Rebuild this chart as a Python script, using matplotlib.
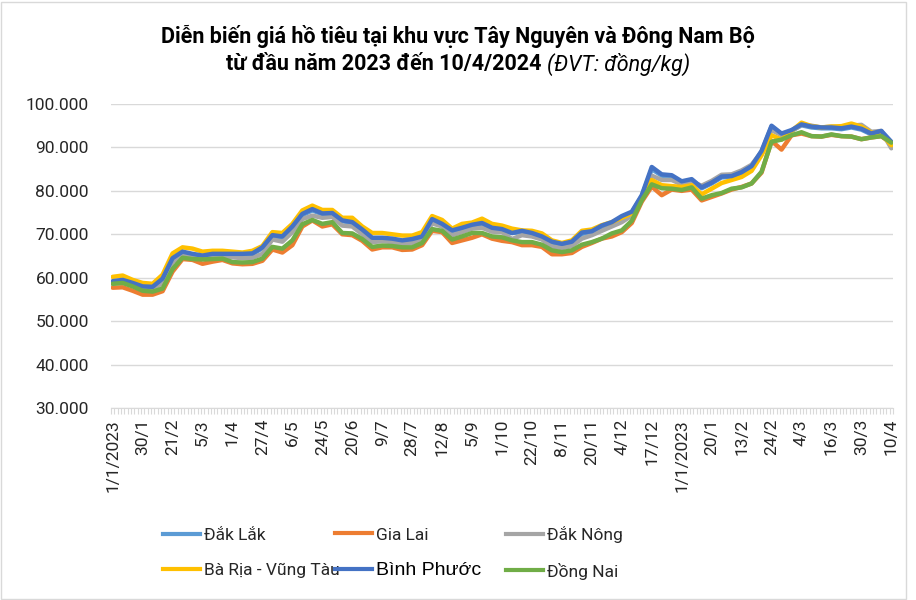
import numpy as np
import matplotlib.pyplot as plt
from matplotlib.ticker import FuncFormatter, FixedLocator
from matplotlib.lines import Line2D
from matplotlib.patches import Rectangle

plt.rcParams['font.family'] = ['Roboto', 'DejaVu Sans']

# gia (nghin dong/kg), moi diem cach nhau ~3 phien
dak_lak = [59.0, 59.3, 58.6, 57.8, 57.6, 59.5, 64.2, 65.8, 65.3, 64.9,
           65.3, 65.3, 65.3, 65.3, 65.4, 66.8, 69.5, 69.2, 71.5, 74.4,
           75.5, 74.6, 74.6, 73.0, 72.6, 70.8, 69.0, 69.0, 68.8, 68.4,
           68.6, 69.3, 73.2, 72.1, 70.6, 71.2, 71.9, 72.3, 71.2, 70.9,
           70.3, 70.5, 70.0, 69.2, 68.0, 67.5, 68.0, 70.1, 70.4, 71.7,
           72.5, 73.9, 75.0, 78.8, 85.0, 83.5, 83.3, 82.0, 82.4, 80.6,
           81.7, 83.1, 83.2, 84.1, 85.5, 89.0, 94.8, 93.0, 93.8, 95.1,
           94.6, 94.4, 94.4, 94.2, 94.6, 94.1, 93.0, 93.6, 91.0]
gia_lai = [57.7, 57.8, 57.0, 56.1, 56.1, 56.9, 61.4, 64.3, 64.1, 63.2,
           63.7, 64.1, 63.3, 63.1, 63.2, 63.9, 66.5, 65.8, 67.5, 71.8,
           73.2, 71.8, 72.3, 70.0, 69.8, 68.5, 66.5, 67.0, 67.0, 66.4,
           66.5, 67.5, 70.8, 70.5, 68.0, 68.6, 69.2, 70.0, 69.0, 68.5,
           68.2, 67.5, 67.5, 67.1, 65.4, 65.4, 65.7, 67.1, 68.0, 69.0,
           69.5, 70.5, 72.6, 77.5, 81.0, 79.0, 80.3, 80.0, 80.3, 77.8,
           78.6, 79.4, 80.3, 80.9, 81.7, 84.2, 91.5, 89.5, 92.8, 93.2,
           92.6, 92.5, 92.9, 92.6, 92.5, 91.9, 92.3, 92.6, 90.9]
dak_nong = [58.6, 58.9, 58.2, 57.3, 57.2, 58.8, 63.5, 65.2, 64.9, 64.6,
            64.8, 64.8, 64.7, 64.5, 64.6, 65.5, 68.8, 68.3, 70.5, 73.5,
            74.3, 73.8, 74.0, 72.0, 71.8, 70.0, 68.2, 68.4, 68.2, 67.8,
            68.0, 68.8, 72.5, 71.8, 69.8, 70.5, 71.3, 71.5, 70.6, 70.5,
            68.9, 69.8, 69.5, 68.8, 67.2, 66.8, 67.3, 69.0, 69.8, 70.8,
            71.8, 72.8, 74.3, 78.5, 83.5, 82.5, 82.5, 81.5, 82.0, 81.2,
            82.3, 83.7, 83.8, 84.7, 86.0, 89.0, 94.0, 92.8, 93.8, 95.2,
            95.0, 94.6, 94.8, 94.6, 95.0, 95.2, 93.6, 93.8, 89.8]
ba_ria = [60.2, 60.5, 59.5, 58.8, 58.6, 60.7, 65.6, 67.0, 66.7, 66.0,
          66.2, 66.2, 66.0, 65.8, 66.2, 67.3, 70.5, 70.3, 72.4, 75.5,
          76.6, 75.6, 75.6, 73.8, 73.8, 71.8, 70.3, 70.3, 70.0, 69.7,
          69.7, 70.5, 74.2, 73.3, 71.3, 72.4, 72.7, 73.6, 72.4, 72.0,
          71.3, 70.9, 70.8, 70.2, 68.6, 68.0, 68.6, 70.8, 71.1, 72.1,
          72.8, 73.8, 74.8, 78.5, 82.5, 81.3, 81.1, 80.9, 81.3, 79.2,
          80.5, 81.8, 82.5, 83.2, 84.6, 88.2, 92.8, 91.8, 93.8, 95.7,
          94.9, 94.6, 94.8, 94.9, 95.5, 94.8, 93.4, 93.2, 90.5]
binh_phuoc = [59.2, 59.5, 58.8, 58.0, 57.9, 59.8, 64.5, 66.0, 65.5, 65.1,
              65.5, 65.5, 65.5, 65.5, 65.6, 67.0, 69.8, 69.5, 71.8, 74.7,
              75.8, 74.8, 74.9, 73.2, 72.8, 71.1, 69.2, 69.2, 69.0, 68.6,
              68.9, 69.5, 73.5, 72.4, 70.9, 71.5, 72.2, 72.6, 71.5, 71.2,
              70.3, 70.8, 70.3, 69.5, 68.3, 67.8, 68.3, 70.4, 70.7, 72.0,
              72.8, 74.2, 75.2, 79.0, 85.5, 83.8, 83.6, 82.2, 82.7, 80.8,
              81.9, 83.3, 83.4, 84.3, 85.7, 89.2, 95.0, 93.2, 94.0, 95.3,
              94.8, 94.6, 94.6, 94.4, 94.8, 94.3, 93.2, 93.8, 91.3]
dong_nai = [58.6, 58.8, 58.0, 57.0, 56.8, 57.5, 62.0, 64.6, 64.3, 64.2,
            64.3, 64.4, 63.6, 63.5, 63.6, 64.4, 67.1, 66.7, 68.6, 72.3,
            73.3, 72.4, 72.8, 70.3, 70.2, 68.9, 67.1, 67.4, 67.3, 67.0,
            67.0, 68.0, 71.2, 70.8, 68.8, 69.5, 70.3, 70.3, 69.5, 69.3,
            68.6, 68.2, 68.2, 67.6, 66.3, 65.9, 66.3, 67.6, 68.2, 69.0,
            70.2, 70.9, 73.1, 77.8, 81.5, 80.6, 80.5, 80.2, 80.8, 78.2,
            79.0, 79.5, 80.5, 80.8, 81.7, 84.4, 91.3, 91.8, 92.8, 93.5,
            92.6, 92.5, 93.0, 92.6, 92.5, 91.9, 92.3, 92.6, 91.1]

tick_labels = ['1/1/2023', '30/1', '21/2', '5/3', '1/4', '27/4', '6/5', '24/5',
               '20/6', '9/7', '28/7', '12/8', '5/9', '1/10', '22/10', '8/11',
               '20/11', '4/12', '17/12', '1/1/2023', '20/1', '13/2', '24/2',
               '4/3', '16/3', '30/3', '10/4']

series = [('Đắk Lắk', dak_lak, '#5B9BD5'),
          ('Gia Lai', gia_lai, '#ED7D31'),
          ('Đắk Nông', dak_nong, '#A5A5A5'),
          ('Bà Rịa - Vũng Tàu', ba_ria, '#FFC000'),
          ('Bình Phước', binh_phuoc, '#4472C4'),
          ('Đồng Nai', dong_nai, '#70AD47')]

W, H = 916, 600
fig = plt.figure(figsize=(W / 100, H / 100), dpi=100)
ax = fig.add_axes([111 / W, 1 - 408 / H, (893 - 111) / W, (408 - 104) / H])

x = np.arange(len(dak_lak))
handles = {}
for name, vals, col in series:
    ln, = ax.plot(x, np.array(vals) * 1000, color=col, lw=3.2, solid_joinstyle='round',
                  solid_capstyle='round', label=name)
    handles[name] = ln

ax.set_ylim(30000, 100000)
ax.set_yticks(np.arange(30000, 100001, 10000))
ax.yaxis.set_major_formatter(FuncFormatter(lambda v, p: f'{v:,.0f}'.replace(',', '.')))
ax.set_xlim(-1 / 6, x[-1] + 1 / 6)
ax.set_xticks(x[::3])
ax.set_xticklabels(tick_labels, rotation=90)
ax.xaxis.set_minor_locator(FixedLocator(np.arange(-1 / 6, x[-1] + 0.2, 1 / 3)))

ax.grid(axis='y', color='#D9D9D9', lw=1)
ax.set_axisbelow(True)
for s in ['top', 'right', 'left']:
    ax.spines[s].set_visible(False)
ax.spines['bottom'].set_color('#D9D9D9')
ax.tick_params(axis='y', length=0, pad=16, labelsize=12.5, labelcolor='#262626')
ax.tick_params(axis='x', which='major', length=0, pad=8, labelsize=12.5, labelcolor='#262626')
ax.tick_params(axis='x', which='minor', length=4, color='#D9D9D9', width=0.8)

# tieu de
fig.text(0.5, 1 - 36 / H, 'Diễn biến giá hồ tiêu tại khu vực Tây Nguyên và Đông Nam Bộ',
         ha='center', va='center', fontsize=15.5, fontweight='bold', color='black')
y2 = 1 - 64 / H
t1 = fig.text(0, y2, 'từ đầu năm 2023 đến 10/4/2024', ha='left', va='center',
              fontsize=15.5, fontweight='bold', color='black')
t2 = fig.text(0, y2, '(ĐVT: đồng/kg)', ha='left', va='center',
              fontsize=15.5, style='italic', color='black')
fig.canvas.draw()
r = fig.canvas.get_renderer()
w1 = t1.get_window_extent(r).width
w2 = t2.get_window_extent(r).width
gap = 6
x0 = W / 2 - (w1 + gap + w2) / 2
t1.set_x(x0 / W)
t2.set_x((x0 + w1 + gap) / W)

# chu giai
cols = [(163, ['Đắk Lắk', 'Bà Rịa - Vũng Tàu']),
        (335, ['Gia Lai', 'Bình Phước']),
        (506, ['Đắk Nông', 'Đồng Nai'])]
for px, names in cols:
    hs = [Line2D([], [], color=handles[n].get_color(), lw=3) for n in names]
    leg = fig.legend(hs, names, loc='center left', bbox_to_anchor=(px / W, 1 - 553 / H),
                     frameon=False, fontsize=12.5, handlelength=2.15, handletextpad=0.2,
                     borderpad=0, borderaxespad=0, labelspacing=1.1)
    for t in leg.get_texts():
        t.set_color('#262626')
        if t.get_text() == 'Bình Phước':
            t.set_fontfamily(['Liberation Sans', 'DejaVu Sans'])
            t.set_fontsize(14)
            t.set_color('black')

fig.patches.append(Rectangle((1 / W, 1 / H), 905 / W, 597 / H, transform=fig.transFigure,
                             fill=False, edgecolor='#D9D9D9', lw=1))

fig.savefig('out.png', dpi=100)
